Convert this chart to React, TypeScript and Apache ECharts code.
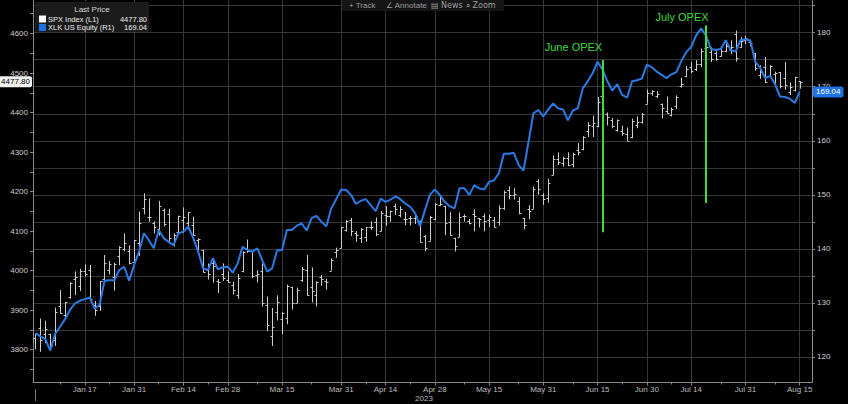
import React, { useEffect, useRef } from "react";
import * as echarts from "echarts";

// ---------- calendar ----------
const FIRST_DAY = "2022-12-30";
const LAST_DAY = "2023-08-15";
const HOLIDAYS = ["2023-01-02", "2023-01-16", "2023-02-20", "2023-04-07", "2023-05-29", "2023-06-19", "2023-07-04"];
const X_LABEL_DATES = [
  "2023-01-17", "2023-01-31", "2023-02-14", "2023-02-28", "2023-03-15", "2023-03-31", "2023-04-14",
  "2023-04-28", "2023-05-15", "2023-05-31", "2023-06-15", "2023-06-30", "2023-07-14", "2023-07-31", "2023-08-15",
];
const MONTHS = ["Jan", "Feb", "Mar", "Apr", "May", "Jun", "Jul", "Aug", "Sep", "Oct", "Nov", "Dec"];

// ---------- SPX Index OHLC ----------
const spxOpen = [
  3829.1,
  3853.3, 3840.4, 3839.7, 3823.4, 3910.8, 3888.6, 3932.4, 3977.6, 3960.6, 3999.3, 4002.3, 3911.8, 3909.0, 3978.1, 4001.7, 3982.7, 4036.1, 4053.7, 4049.3, 4020.9,
  4070.1, 4158.7, 4136.7, 4119.6, 4105.4, 4153.5, 4144.3, 4068.9, 4096.6, 4126.7, 4119.5, 4114.8, 4077.4, 4052.4, 4001.8, 4018.6, 3973.2, 3992.4, 3977.2,
  3963.3, 3938.7, 3998.0, 4055.2, 4048.3, 3987.6, 3998.7, 3912.8, 3835.1, 3894.0, 3876.7, 3878.9, 3958.7, 3917.5, 3975.9, 4002.0, 3959.2, 3939.2, 3982.9, 3974.1, 3999.5, 4046.7, 4056.2,
  4102.2, 4128.0, 4094.5, 4081.2, 4085.2, 4110.3, 4121.7, 4100.0, 4140.1, 4137.2, 4164.3, 4139.3, 4130.5, 4132.1, 4132.1, 4126.4, 4087.8, 4075.3, 4129.6,
  4166.8, 4164.1, 4122.3, 4082.6, 4084.7, 4137.0, 4124.3, 4143.7, 4132.2, 4138.5, 4126.7, 4128.0, 4122.9, 4157.7, 4204.2, 4190.8, 4176.8, 4133.0, 4155.7, 4156.2, 4226.7, 4190.7,
  4183.0, 4241.0, 4283.0, 4271.3, 4285.5, 4268.7, 4304.9, 4308.3, 4352.6, 4366.3, 4365.3, 4441.0, 4396.1, 4380.0, 4355.4, 4354.2, 4344.8, 4337.4, 4367.5, 4374.9, 4422.4,
  4450.5, 4442.0, 4422.6, 4404.5, 4394.2, 4415.6, 4467.7, 4491.5, 4514.6, 4508.9, 4521.8, 4563.9, 4554.4, 4550.2, 4543.4, 4555.2, 4559.0, 4598.3, 4565.8, 4584.8,
  4578.8, 4550.9, 4494.3, 4514.0, 4491.6, 4498.0, 4501.6, 4487.2, 4450.7, 4458.1, 4478.9,
];
const spxHigh = [
  3839.9,
  3878.5, 3873.2, 3839.7, 3906.2, 3950.6, 3919.8, 3970.1, 3997.8, 4004.0, 4015.4, 4014.2, 3922.9, 3973.0, 4039.3, 4023.9, 4019.6, 4061.6, 4094.2, 4063.9, 4077.2,
  4149.0, 4195.4, 4182.4, 4124.6, 4176.5, 4156.9, 4156.2, 4094.4, 4138.9, 4159.8, 4148.1, 4136.5, 4081.5, 4052.4, 4017.4, 4028.3, 3978.3, 4018.1, 3997.5,
  3971.7, 3990.8, 4048.3, 4078.5, 4050.0, 4000.4, 4017.8, 3934.1, 3905.1, 3937.3, 3894.3, 3964.5, 3958.9, 3956.6, 4009.1, 4039.5, 4007.7, 3972.7, 3988.5, 3979.2, 4030.6, 4057.9, 4110.8,
  4127.7, 4133.1, 4099.7, 4107.3, 4109.5, 4124.3, 4134.4, 4150.3, 4163.2, 4151.7, 4169.5, 4162.6, 4148.6, 4138.0, 4142.4, 4126.4, 4089.7, 4138.2, 4170.1,
  4186.9, 4164.1, 4148.3, 4082.6, 4147.0, 4142.3, 4130.4, 4154.3, 4132.8, 4143.7, 4141.3, 4135.5, 4164.7, 4202.2, 4212.9, 4209.2, 4185.7, 4133.0, 4165.7, 4212.9, 4231.1, 4195.4,
  4232.4, 4290.7, 4299.3, 4288.3, 4299.2, 4298.0, 4322.6, 4340.1, 4375.4, 4391.8, 4439.2, 4448.5, 4400.2, 4386.2, 4382.3, 4366.6, 4362.1, 4384.4, 4390.4, 4398.4, 4458.5,
  4456.5, 4454.1, 4422.6, 4440.4, 4412.6, 4443.6, 4488.3, 4517.4, 4527.8, 4532.9, 4562.3, 4578.4, 4564.7, 4555.0, 4563.4, 4580.6, 4582.5, 4607.1, 4590.2, 4594.2,
  4584.6, 4550.9, 4519.5, 4540.3, 4519.8, 4503.3, 4502.4, 4527.4, 4476.2, 4490.3, 4478.9,
];
const spxLow = [
  3800.3,
  3794.3, 3815.8, 3802.4, 3809.6, 3890.4, 3877.3, 3928.5, 3937.6, 3947.7, 3984.6, 3926.6, 3885.5, 3897.9, 3971.6, 3989.8, 3949.1, 4013.3, 4048.7, 4015.6, 4020.4,
  4037.2, 4141.9, 4123.4, 4093.4, 4088.4, 4111.7, 4069.7, 4060.8, 4092.7, 4095.0, 4104.0, 4089.5, 4048.0, 3995.2, 3976.9, 3969.2, 3943.1, 3973.6, 3969.0,
  3939.1, 3928.2, 3995.2, 4044.6, 3980.3, 3969.8, 3908.7, 3846.3, 3808.9, 3873.6, 3838.2, 3864.1, 3901.3, 3916.9, 3971.2, 3936.2, 3919.1, 3909.2, 3961.2, 3951.5, 3999.5, 4032.1, 4056.2,
  4098.8, 4086.9, 4072.6, 4069.8, 4072.6, 4102.6, 4086.9, 4099.4, 4113.2, 4123.2, 4140.4, 4134.5, 4114.6, 4113.9, 4117.8, 4071.4, 4049.4, 4075.3, 4127.2,
  4164.1, 4089.7, 4088.9, 4048.3, 4084.7, 4123.8, 4116.7, 4098.9, 4109.3, 4099.1, 4110.3, 4109.9, 4113.6, 4153.5, 4180.2, 4179.7, 4142.5, 4104.0, 4129.7, 4156.2, 4192.2, 4166.2,
  4171.6, 4241.0, 4266.8, 4263.1, 4264.0, 4261.1, 4291.7, 4304.4, 4337.7, 4337.9, 4362.6, 4407.4, 4367.2, 4360.1, 4351.8, 4341.3, 4328.1, 4335.0, 4360.2, 4372.0, 4422.4,
  4442.3, 4436.6, 4385.1, 4397.4, 4389.9, 4408.5, 4463.2, 4489.4, 4499.6, 4504.9, 4514.6, 4557.5, 4527.6, 4531.3, 4541.3, 4552.4, 4547.6, 4528.6, 4564.0, 4573.1,
  4567.5, 4505.8, 4485.5, 4474.6, 4491.2, 4464.4, 4461.3, 4457.9, 4444.0, 4453.4, 4460.3,
];
const spxClose = [
  3839.5,
  3824.1, 3853.0, 3808.1, 3895.1, 3892.1, 3919.3, 3969.6, 3983.2, 3999.1, 3991.0, 3928.9, 3898.9, 3972.6, 4019.8, 4017.0, 4016.2, 4060.4, 4070.6, 4017.8, 4076.6,
  4119.2, 4179.8, 4136.5, 4111.1, 4164.0, 4117.9, 4081.5, 4090.5, 4137.3, 4136.1, 4147.6, 4090.4, 4079.1, 3997.3, 3991.1, 4012.3, 3970.0, 3982.2, 3970.2,
  3951.4, 3981.4, 4045.6, 4048.4, 3986.4, 3992.0, 3918.3, 3861.6, 3855.8, 3919.3, 3891.9, 3960.3, 3916.6, 3951.6, 4002.9, 3937.0, 3948.7, 3971.0, 3977.5, 3971.3, 4027.8, 4050.8, 4109.3,
  4124.5, 4100.6, 4090.4, 4105.0, 4109.1, 4108.9, 4092.0, 4146.2, 4137.6, 4151.3, 4154.9, 4154.5, 4129.8, 4133.5, 4137.0, 4071.6, 4056.0, 4135.4, 4169.5,
  4167.9, 4119.6, 4090.8, 4061.2, 4136.3, 4138.1, 4119.2, 4137.6, 4130.6, 4124.1, 4136.3, 4109.9, 4158.8, 4198.1, 4192.0, 4192.6, 4145.6, 4115.2, 4151.3, 4205.5, 4205.5, 4179.8,
  4221.0, 4282.4, 4273.8, 4283.9, 4267.5, 4293.9, 4298.9, 4338.9, 4369.0, 4372.6, 4425.8, 4409.6, 4388.7, 4365.7, 4381.9, 4348.3, 4328.8, 4378.4, 4376.9, 4396.4, 4450.4,
  4455.6, 4446.8, 4411.6, 4399.0, 4409.5, 4439.3, 4472.2, 4510.0, 4505.4, 4522.8, 4555.0, 4565.7, 4534.9, 4536.3, 4554.6, 4567.5, 4566.8, 4537.4, 4582.2, 4589.0,
  4576.7, 4513.4, 4501.9, 4478.0, 4518.4, 4499.4, 4467.7, 4468.8, 4464.1, 4489.7, 4477.8,
];

// ---------- XLK US Equity ----------
const xlkClose = [
  124.4, 123.8, 123.3, 121.2, 124.3, 125.6, 127.0, 128.7, 129.9, 130.4,
  130.7, 131.0, 129.0, 129.6, 134.1, 134.2, 134.2, 136.1, 136.7, 134.1,
  137.0, 139.5, 142.9, 141.6, 140.1, 143.5, 142.0, 141.3, 140.7, 142.9,
  143.2, 144.1, 142.0, 139.5, 136.4, 136.1, 138.3, 136.2, 136.6, 136.7,
  135.6, 137.3, 140.4, 139.8, 139.5, 140.1, 137.9, 135.8, 136.4, 139.7,
  139.8, 143.5, 143.5, 144.3, 144.7, 143.4, 145.7, 146.1, 145.0, 144.2,
  147.5, 149.2, 151.0, 150.9, 150.0, 148.3, 148.9, 149.2, 148.1, 147.0,
  149.3, 148.7, 149.1, 149.7, 149.2, 148.4, 147.8, 146.6, 144.2, 147.2,
  150.0, 151.0, 150.0, 148.7, 147.9, 147.5, 151.2, 151.2, 150.0, 151.8,
  151.2, 151.0, 152.4, 152.7, 154.0, 157.6, 157.6, 157.8, 155.5, 154.5,
  159.8, 165.1, 165.7, 164.5, 165.8, 166.9, 166.0, 165.8, 163.8, 165.6,
  166.0, 169.7, 171.0, 172.5, 174.6, 173.2, 171.0, 169.3, 170.5, 168.5,
  168.0, 171.0, 171.2, 171.5, 174.1, 173.6, 172.8, 172.2, 171.6, 172.3,
  172.7, 174.8, 176.4, 177.4, 179.5, 180.8, 179.5, 177.0, 176.8, 177.0,
  178.6, 176.8, 176.5, 178.6, 178.8, 178.5, 174.6, 173.5, 171.6, 172.0,
  170.5, 168.2, 168.1, 167.8, 167.0, 169.04,
];

const SPX_LAST = 4477.8;
const XLK_LAST = 169.04;
const LEFT_LABELS = [3800, 3900, 4000, 4100, 4200, 4300, 4400, 4500, 4600];
const LEFT_TICKS = [3750, 3800, 3850, 3900, 3950, 4000, 4050, 4100, 4150, 4200, 4250, 4300, 4350, 4400, 4450, 4500, 4550, 4600, 4650];
const RIGHT_LABELS = [120, 130, 140, 150, 160, 170, 180];
const RIGHT_TICKS = [120, 125, 130, 135, 140, 145, 150, 155, 160, 165, 170, 175, 180, 185];

const OPEX_DATES = ["2023-06-16", "2023-07-19"];
const OPEX_LABELS = ["June OPEX", "July OPEX"];
const OPEX_FROM = [4097, 4171];
const OPEX_TO = [4533, 4621];

const SPX_COLOR = "#cdcdcd";
const XLK_COLOR = "#2a7be4";
const GREEN = "#3ddc3d";
const AXIS_COLOR = "#8a8a8a";
const GRID_COLOR = "#363636";
const HIDDEN = "rgba(0,0,0,0)";

function buildDates(): string[] {
  const out: string[] = [];
  const d = new Date(FIRST_DAY + "T00:00:00Z");
  const end = new Date(LAST_DAY + "T00:00:00Z").getTime();
  while (d.getTime() <= end) {
    const wd = d.getUTCDay();
    const s = d.toISOString().slice(0, 10);
    if (wd !== 0 && wd !== 6 && HOLIDAYS.indexOf(s) < 0) out.push(s);
    d.setUTCDate(d.getUTCDate() + 1);
  }
  return out;
}

export default function App() {
  const ref = useRef<HTMLDivElement>(null);

  useEffect(() => {
    document.body.style.margin = "0";
    document.body.style.background = "#000";
    const el = ref.current!;
    const chart = echarts.init(el, undefined, { renderer: "svg", width: 848, height: 404 });

    const dates = buildDates();
    const categories = [...dates, "pad-1", "pad-2"];
    const labelSet = new Set(X_LABEL_DATES);
    const labelIdx = X_LABEL_DATES.map((d) => categories.indexOf(d));
    const minorSet = new Set<number>();
    let prev = 0;
    labelIdx.forEach((li) => {
      minorSet.add(Math.round((prev + li) / 2));
      prev = li;
    });

    const fmtDate = (v: string) => {
      if (!labelSet.has(v)) return "";
      const m = parseInt(v.slice(5, 7), 10) - 1;
      const d = parseInt(v.slice(8, 10), 10);
      return MONTHS[m] + " " + d;
    };

    const ohlc = dates.map((_, i) => [i, spxOpen[i], spxHigh[i], spxLow[i], spxClose[i]]);

    const font = "Liberation Sans";
    const txt = (x: number, y: number, text: string, size: number, fill: string, align = "left", family = font) => ({
      type: "text",
      x,
      y,
      z: 11,
      silent: true,
      style: {
        text,
        fill,
        font: `${size}px "${family}"`,
        align,
        verticalAlign: "middle",
        textAlign: align,
        textVerticalAlign: "middle",
      },
    });

    const option: any = {
      animation: false,
      backgroundColor: "#000",
      grid: { left: 33, right: 36, top: 0, bottom: 21.5 },
      xAxis: [
        {
          type: "category",
          data: categories,
          boundaryGap: true,
          axisLine: { show: true, lineStyle: { color: AXIS_COLOR, width: 1 } },
          axisTick: {
            show: true,
            alignWithLabel: true,
            length: 3,
            interval: (_i: number, v: string) => labelSet.has(v),
            lineStyle: { color: AXIS_COLOR },
          },
          axisLabel: {
            interval: (_i: number, v: string) => labelSet.has(v),
            formatter: fmtDate,
            color: "#bdbdbd",
            fontSize: 8,
            fontFamily: font,
            margin: 3,
          },
          splitLine: {
            show: true,
            alignWithLabel: true,
            interval: (_i: number, v: string) => labelSet.has(v),
            lineStyle: { color: GRID_COLOR, width: 1 },
          },
        },
        {
          type: "category",
          data: categories,
          boundaryGap: true,
          position: "bottom",
          axisLine: { show: false },
          axisLabel: { show: false },
          splitLine: { show: false },
          axisTick: {
            show: true,
            alignWithLabel: true,
            length: 2,
            interval: (i: number) => minorSet.has(i),
            lineStyle: { color: AXIS_COLOR },
          },
        },
      ],
      yAxis: [
        {
          type: "value",
          position: "left",
          min: 3716.5,
          max: 4684.8,
          axisLine: { show: true, lineStyle: { color: AXIS_COLOR } },
          axisTick: { show: true, length: 3, customValues: LEFT_TICKS, lineStyle: { color: AXIS_COLOR } },
          axisLabel: {
            customValues: LEFT_LABELS,
            formatter: (v: number) => String(Math.round(v)),
            color: "#cfcfcf",
            fontSize: 8,
            fontFamily: font,
            margin: 5,
          },
          splitLine: { show: false },
        },
        {
          type: "value",
          position: "right",
          min: 115.28,
          max: 186.05,
          minInterval: 10,
          maxInterval: 10,
          axisLine: { show: true, lineStyle: { color: AXIS_COLOR } },
          axisTick: { show: true, length: 3, customValues: RIGHT_TICKS, lineStyle: { color: AXIS_COLOR } },
          axisLabel: {
            customValues: RIGHT_LABELS,
            formatter: (v: number) => String(Math.round(v)),
            color: "#cfcfcf",
            fontSize: 8,
            fontFamily: font,
            margin: 5,
          },
          splitLine: { show: true, customValues: RIGHT_LABELS, lineStyle: { color: GRID_COLOR, width: 1 } },
        },
      ],
      series: [
        {
          name: "SPX Index",
          type: "custom",
          xAxisIndex: 0,
          yAxisIndex: 0,
          data: ohlc,
          encode: { x: 0, y: [1, 2, 3, 4] },
          z: 2,
          silent: true,
          renderItem: (_p: any, api: any) => {
            const i = api.value(0);
            const o = api.coord([i, api.value(1)]);
            const h = api.coord([i, api.value(2)]);
            const l = api.coord([i, api.value(3)]);
            const c = api.coord([i, api.value(4)]);
            const x = Math.round(o[0]) + 0.5;
            const oy = Math.round(o[1]) + 0.5;
            const cy = Math.round(c[1]) + 0.5;
            const st = { stroke: SPX_COLOR, lineWidth: 1 };
            return {
              type: "group",
              children: [
                { type: "line", shape: { x1: x, y1: h[1], x2: x, y2: l[1] }, style: st },
                { type: "line", shape: { x1: x - 2, y1: oy, x2: x, y2: oy }, style: st },
                { type: "line", shape: { x1: x, y1: cy, x2: x + 2, y2: cy }, style: st },
              ],
            };
          },
        },
        {
          name: "SPX markers",
          type: "line",
          xAxisIndex: 0,
          yAxisIndex: 0,
          data: spxClose,
          showSymbol: false,
          silent: true,
          lineStyle: { color: HIDDEN, width: 0 },
          z: 5,
          markLine: {
            silent: true,
            symbol: ["none", "none"],
            animation: false,
            data: [
              ...OPEX_DATES.map((d, k) => [
                { coord: [d, OPEX_FROM[k]], lineStyle: { color: GREEN, width: 2, type: "solid" }, label: { show: false } },
                { coord: [d, OPEX_TO[k]] },
              ]),
              {
                yAxis: SPX_LAST,
                lineStyle: { color: HIDDEN, width: 1, opacity: 1 },
                label: {
                  show: true,
                  position: "start",
                  distance: 1,
                  formatter: SPX_LAST.toFixed(2),
                  backgroundColor: "#f2f2f2",
                  color: "#000",
                  opacity: 1,
                  fontSize: 8,
                  fontFamily: font,
                  padding: [2, 2, 1, 2],
                  borderRadius: 2,
                },
              },
            ],
          },
          markPoint: {
            silent: true,
            symbol: "circle",
            symbolSize: 1,
            itemStyle: { color: HIDDEN },
            animation: false,
            data: OPEX_DATES.map((d, k) => ({
              coord: [d, OPEX_TO[k]],
              label: {
                show: true,
                position: "top",
                formatter: OPEX_LABELS[k],
                color: GREEN,
                fontSize: 11,
                fontFamily: font,
                offset: k === 0 ? [-29, -2] : [-24, 3],
              },
            })),
          },
        },
        {
          name: "XLK US Equity",
          type: "line",
          xAxisIndex: 0,
          yAxisIndex: 1,
          data: xlkClose,
          showSymbol: false,
          silent: true,
          z: 4,
          lineStyle: { color: XLK_COLOR, width: 2 },
          markLine: {
            silent: true,
            symbol: ["none", "none"],
            animation: false,
            data: [
              {
                yAxis: XLK_LAST,
                lineStyle: { color: HIDDEN, width: 1, opacity: 1 },
                label: {
                  show: true,
                  position: "end",
                  distance: 1,
                  formatter: XLK_LAST.toFixed(2),
                  backgroundColor: "#1f72e6",
                  color: "#fff",
                  opacity: 1,
                  fontSize: 8,
                  fontFamily: font,
                  padding: [2, 3, 1, 3],
                  borderRadius: 2,
                },
              },
            ],
          },
        },
      ],
      graphic: [
        // legend box
        { type: "rect", shape: { x: 35, y: 2, width: 114, height: 30 }, style: { fill: "#1b1b1b" }, silent: true, z: 10 },
        txt(92, 9.5, "Last Price", 8, "#d6d6d6", "center"),
        { type: "rect", shape: { x: 39, y: 15.5, width: 7, height: 7 }, style: { fill: "#ffffff" }, silent: true, z: 11 },
        txt(48, 19, "SPX Index (L1)", 7.5, "#eeeeee"),
        txt(147, 19, SPX_LAST.toFixed(2), 7.5, "#eeeeee", "right"),
        { type: "rect", shape: { x: 39, y: 24, width: 7, height: 7 }, style: { fill: "#1f72e6" }, silent: true, z: 11 },
        txt(48, 27.5, "XLK US Equity (R1)", 7.5, "#eeeeee"),
        txt(147, 27.5, XLK_LAST.toFixed(2), 7.5, "#eeeeee", "right"),
        // toolbar
        { type: "rect", shape: { x: 342, y: 0, width: 162, height: 11 }, style: { fill: "#161616" }, silent: true, z: 10 },
        txt(349, 5.5, "+ Track", 8, "#9c9c9c"),
        txt(386, 5.5, "\u2220 Annotate", 8, "#9c9c9c"),
        txt(431, 5.5, "\u25A4 News", 8, "#9c9c9c", "left", "DejaVu Sans"),
        txt(466, 5.5, "\u2315 Zoom", 8, "#9c9c9c", "left", "DejaVu Sans"),
        // year marker
        { type: "line", shape: { x1: 35.5, y1: 389, x2: 35.5, y2: 401 }, style: { stroke: "#777", lineWidth: 1 }, silent: true },
        txt(424, 398, "2023", 8, "#bdbdbd", "center"),
      ],
    };

    chart.setOption(option);
    return () => chart.dispose();
  }, []);

  return <div ref={ref} style={{ width: 848, height: 404, background: "#000", position: "absolute", left: 0, top: 0 }} />;
}
